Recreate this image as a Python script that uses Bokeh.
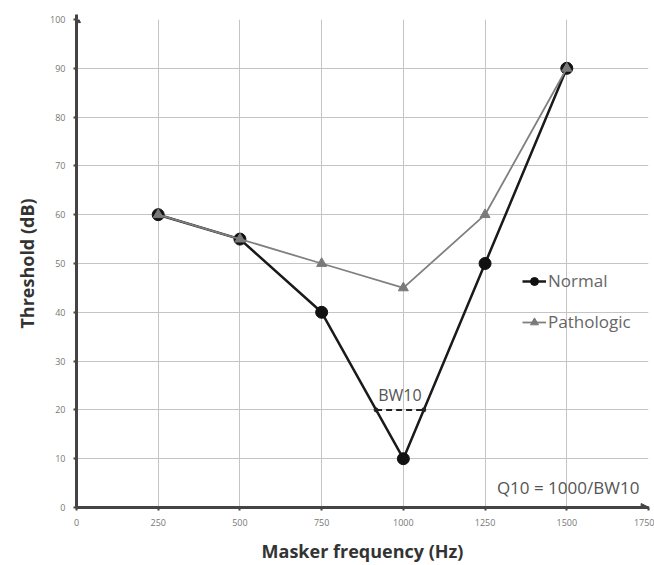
import numpy as np
from bokeh.plotting import figure
from bokeh.models import (Range1d, FixedTicker, Legend, LegendItem, Arrow,
                          NormalHead)
from bokeh.core.properties import value
from bokeh.embed import file_html
from bokeh.resources import INLINE

# Masker frequencies (Hz) and thresholds (dB)
freqs = [250, 500, 750, 1000, 1250, 1500]
normal = [60, 55, 40, 10, 50, 90]
pathologic = [60, 55, 50, 45, 60, 90]

x_ticks = [0, 250, 500, 750, 1000, 1250, 1500, 1750]
y_ticks = [0, 10, 20, 30, 40, 50, 60, 70, 80, 90, 100]

# 10 dB above the tip of the normal tuning curve
tip = int(np.argmin(normal))
bw_level = normal[tip] + 10
left_x = float(np.interp(bw_level, [normal[tip], normal[tip - 1]], [freqs[tip], freqs[tip - 1]]))
right_x = float(np.interp(bw_level, [normal[tip], normal[tip + 1]], [freqs[tip], freqs[tip + 1]]))

FONT = "Open Sans"
AXIS_COL = "#444444"

p = figure(width=654, height=565, output_backend="svg", toolbar_location=None,
           x_range=Range1d(0, 1750), y_range=Range1d(0, 100),
           min_border_left=76, min_border_right=6, min_border_top=19,
           min_border_bottom=56, background_fill_color="white",
           border_fill_color="white")
p.outline_line_color = None

for ax in (p.xaxis[0], p.yaxis[0]):
    ax.axis_line_color = AXIS_COL
    ax.axis_line_width = 3
    ax.major_tick_line_color = AXIS_COL
    ax.major_tick_line_width = 2
    ax.major_tick_out = 3
    ax.major_tick_in = 0
    ax.minor_tick_line_color = None
    ax.major_label_text_font = FONT
    ax.major_label_text_font_size = "9px"
    ax.major_label_text_color = "#777777"
    ax.axis_label_text_font = FONT
    ax.axis_label_text_font_style = "bold"
    ax.axis_label_text_font_size = "18px"
    ax.axis_label_text_color = "#333333"

p.xaxis.ticker = FixedTicker(ticks=x_ticks)
p.yaxis.ticker = FixedTicker(ticks=y_ticks)
p.xaxis.axis_label = "Masker frequency (Hz)"
p.yaxis.axis_label = "Threshold (dB)"
p.xaxis.major_label_standoff = 8
p.yaxis.major_label_standoff = 8
p.xaxis.axis_label_standoff = 10
p.yaxis.axis_label_standoff = 8

p.grid.grid_line_color = "#c4c4c4"
p.grid.grid_line_width = 1
p.xgrid.ticker = FixedTicker(ticks=x_ticks[1:])
p.ygrid.ticker = FixedTicker(ticks=y_ticks[1:])
p.grid.minor_grid_line_color = "#eeeeee"
p.grid.minor_grid_line_dash = "1 2"

# Arrow heads at the ends of both axes
p.add_layout(Arrow(end=NormalHead(size=8, fill_color=AXIS_COL, line_color=AXIS_COL),
                   x_start=0, y_start=97, x_end=0, y_end=101,
                   line_color=AXIS_COL, line_width=3))
p.add_layout(Arrow(end=NormalHead(size=8, fill_color=AXIS_COL, line_color=AXIS_COL),
                   x_start=1700, y_start=0, x_end=1752, y_end=0,
                   line_color=AXIS_COL, line_width=3))

# Tuning curves (pathologic drawn over normal)
norm_line = p.line(freqs, normal, line_color="#1a1a1a", line_width=2.5)
norm_pts = p.scatter(freqs, normal, marker="circle", size=12,
                     fill_color="#111111", line_color="#111111")
path_line = p.line(freqs, pathologic, line_color="#808080", line_width=1.8)
path_pts = p.scatter(freqs, pathologic, marker="triangle", size=10,
                     fill_color="#7a7a7a", line_color="#7a7a7a")

# BW10 bandwidth marker
p.line([left_x, right_x], [bw_level, bw_level], line_color="#222222",
       line_width=2, line_dash="6 4")
p.scatter([left_x, right_x], [bw_level, bw_level], marker="circle", size=4,
          fill_color="#222222", line_color="#222222")
p.text(x=[(left_x + right_x) / 2], y=[bw_level + 0.8], text=["BW10"],
       text_font=value(FONT), text_font_size="16px", text_color="#555555",
       text_align="center", text_baseline="bottom")
p.text(x=[1722], y=[4], text=["Q10 = 1000/BW10"],
       text_font=value(FONT), text_font_size="17px", text_color="#555555",
       text_align="right", text_baseline="middle")

legend = Legend(items=[LegendItem(label="Normal", renderers=[norm_line, norm_pts]),
                       LegendItem(label="Pathologic", renderers=[path_line, path_pts])],
                location=(446, 174), orientation="vertical",
                background_fill_alpha=0, border_line_color=None,
                label_text_font=FONT, label_text_font_size="17px",
                label_text_color="#666666", glyph_width=24, glyph_height=20,
                label_height=20, spacing=18, padding=0, margin=0,
                label_standoff=2)
p.add_layout(legend)

open("out.html", "w").write(file_html(p, INLINE))
